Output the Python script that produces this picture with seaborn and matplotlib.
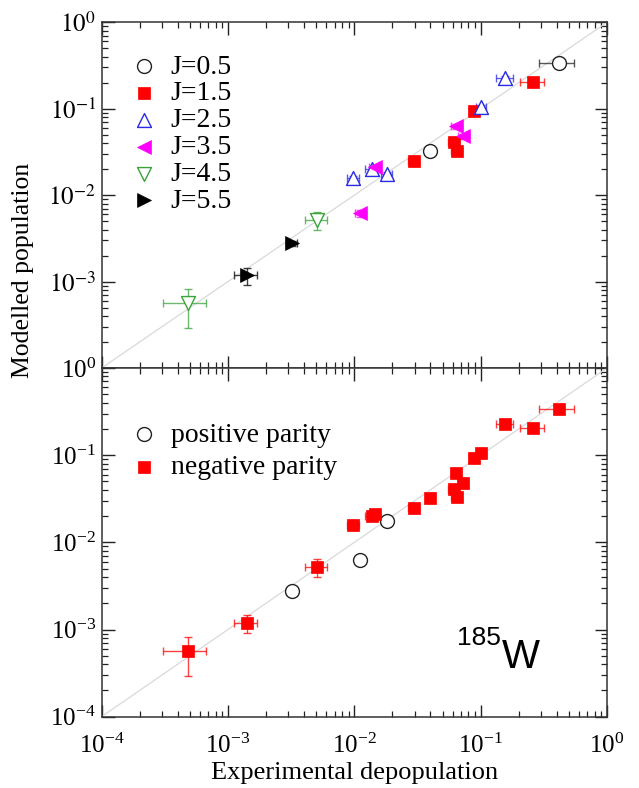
import numpy as np
import pandas as pd
import matplotlib
matplotlib.use("Agg")
import matplotlib.pyplot as plt
import seaborn as sns
from matplotlib.ticker import LogLocator, NullFormatter, LogFormatterSciNotation

# ---------------- data ----------------
exp_depop = [0.42, 0.0397, 0.261, 0.0887, 0.0615, 0.0647, 0.0297, 0.156, 0.101, 0.0137,
             0.0098, 0.0182, 0.0638, 0.0729, 0.0146, 0.0111, 0.00504, 0.000485, 0.00319, 0.00141]
mod_pop = [0.335, 0.0325, 0.205, 0.094, 0.041, 0.0327, 0.025, 0.228, 0.105, 0.0200,
           0.0157, 0.0175, 0.063, 0.048, 0.021, 0.0062, 0.0052, 0.00056, 0.00278, 0.00118]
x_err = [0.13, 0.003, 0.055, 0.008, 0.006, 0.006, 0.003, 0.023, 0.01, 0.0015,
         0.001, 0.0018, 0.006, 0.007, 0.0015, 0.001, 0.001, 0.00018, 0.0003, 0.0003]
y_err = [0.02, 0.002, 0.012, 0.006, 0.003, 0.003, 0.0015, 0.012, 0.006, 0.0012,
         0.001, 0.001, 0.004, 0.003, 0.0013, 0.0006, 0.0012, 0.00027, 0.0002, 0.00027]
spin = ["J=0.5", "J=0.5", "J=1.5", "J=1.5", "J=1.5", "J=1.5", "J=1.5", "J=2.5", "J=2.5", "J=2.5",
        "J=2.5", "J=2.5", "J=3.5", "J=3.5", "J=3.5", "J=3.5", "J=4.5", "J=4.5", "J=5.5", "J=5.5"]
parity = ["negative parity"] * 11 + ["positive parity"] + ["negative parity"] * 3 + \
         ["positive parity", "negative parity", "negative parity", "positive parity", "negative parity"]

df = pd.DataFrame({"x": exp_depop, "y": mod_pop, "xerr": x_err, "yerr": y_err,
                   "J": spin, "parity": parity})

j_styles = {
    "J=0.5": dict(marker="o", color="#222222", filled=False, size=10),
    "J=1.5": dict(marker="s", color="#ff0000", filled=True, size=9),
    "J=2.5": dict(marker="^", color="#2a2ae6", filled=False, size=10),
    "J=3.5": dict(marker="<", color="#ff00ff", filled=True, size=10),
    "J=4.5": dict(marker="v", color="#3aa33a", filled=False, size=10),
    "J=5.5": dict(marker=">", color="#000000", filled=True, size=10),
}
p_styles = {
    "positive parity": dict(marker="o", color="#222222", filled=False, size=10),
    "negative parity": dict(marker="s", color="#ff0000", filled=True, size=9),
}

# ---------------- style ----------------
sns.set_theme(style="ticks")
plt.rcParams["font.family"] = ["Liberation Serif", "DejaVu Serif"]
plt.rcParams["mathtext.fontset"] = "stix"
plt.rcParams["axes.linewidth"] = 1.1
plt.rcParams["text.color"] = "black"
plt.rcParams["xtick.color"] = "#222222"
plt.rcParams["ytick.color"] = "#222222"
plt.rcParams["xtick.labelcolor"] = "black"
plt.rcParams["ytick.labelcolor"] = "black"
plt.rcParams["axes.labelcolor"] = "black"

fig = plt.figure(figsize=(6.39, 7.88), dpi=100)
L, R = 0.159, 0.950
ax_top = fig.add_axes([L, 0.533, R - L, 0.9717 - 0.533])
ax_bot = fig.add_axes([L, 0.0905, R - L, 0.533 - 0.0905])


def draw(ax, groupcol, styles):
    ax.plot([1e-4, 1], [1e-4, 1], color="#d9d9d9", lw=0.9, zorder=1)
    for name, st in styles.items():
        sub = df[df[groupcol] == name]
        ax.errorbar(sub["x"], sub["y"], xerr=sub["xerr"], yerr=sub["yerr"], fmt="none",
                    ecolor=st["color"], elinewidth=1.0, capsize=3, capthick=1.0,
                    alpha=0.75, zorder=2)
        fc = st["color"] if st["filled"] else "white"
        sns.scatterplot(data=sub, x="x", y="y", ax=ax, marker=st["marker"],
                        s=st["size"] ** 2, facecolor=fc, edgecolor=st["color"],
                        linewidth=1.0 if not st["filled"] else 0.5, label=name, zorder=3)
    ax.set_xscale("log")
    ax.set_yscale("log")
    ax.set_xlim(1e-4, 1)
    ax.set_ylim(1e-4, 1)
    for axis in (ax.xaxis, ax.yaxis):
        axis.set_major_locator(LogLocator(base=10, numticks=10))
        axis.set_minor_locator(LogLocator(base=10, subs=np.arange(2, 10), numticks=20))
        axis.set_minor_formatter(NullFormatter())
        axis.set_major_formatter(LogFormatterSciNotation())
    ax.tick_params(which="major", direction="in", length=9, width=1.0,
                   top=True, right=True, labelsize=18, pad=4)
    ax.tick_params(axis="x", which="major", pad=12)
    ax.tick_params(which="minor", direction="in", length=4.5, width=0.9,
                   top=True, right=True)
    ax.set_xlabel("")
    ax.set_ylabel("")
    for s in ax.spines.values():
        s.set_color("#333333")


draw(ax_top, "J", j_styles)
draw(ax_bot, "parity", p_styles)

ax_top.tick_params(axis="x", labelbottom=False)
ax_top.set_yticks([1e-4, 1e-3, 1e-2, 1e-1, 1])
ax_top.set_yticklabels(["", r"$10^{-3}$", r"$10^{-2}$", r"$10^{-1}$", r"$10^{0}$"])
ax_top.set_xlim(1e-4, 1)
ax_top.set_ylim(1e-4, 1)

leg1 = ax_top.legend(loc="upper left", bbox_to_anchor=(0.035, 0.94), frameon=False,
                     fontsize=20, handletextpad=0.45, labelspacing=0.05,
                     borderaxespad=0, handlelength=1.0, markerscale=1.0)
leg2 = ax_bot.legend(loc="upper left", bbox_to_anchor=(0.035, 0.876), frameon=False,
                     fontsize=20, handletextpad=0.45, labelspacing=0.25,
                     borderaxespad=0, handlelength=1.0)
for leg in (leg1, leg2):
    for t in leg.get_texts():
        t.set_color("black")

ax_bot.set_xlabel("Experimental depopulation", fontsize=19, labelpad=3)
fig.text(0.036, 0.657, "Modelled population", rotation=90, ha="center", va="center",
         fontsize=18.5)

ax_bot.text(0.79, 0.205, "185", transform=ax_bot.transAxes, ha="right", va="baseline",
            fontsize=19, color="black", family=["Liberation Sans", "DejaVu Sans"])
ax_bot.text(0.792, 0.14, "W", transform=ax_bot.transAxes, ha="left", va="baseline",
            fontsize=29, color="black", family=["Liberation Sans", "DejaVu Sans"])

fig.savefig("out.png", dpi=100)
